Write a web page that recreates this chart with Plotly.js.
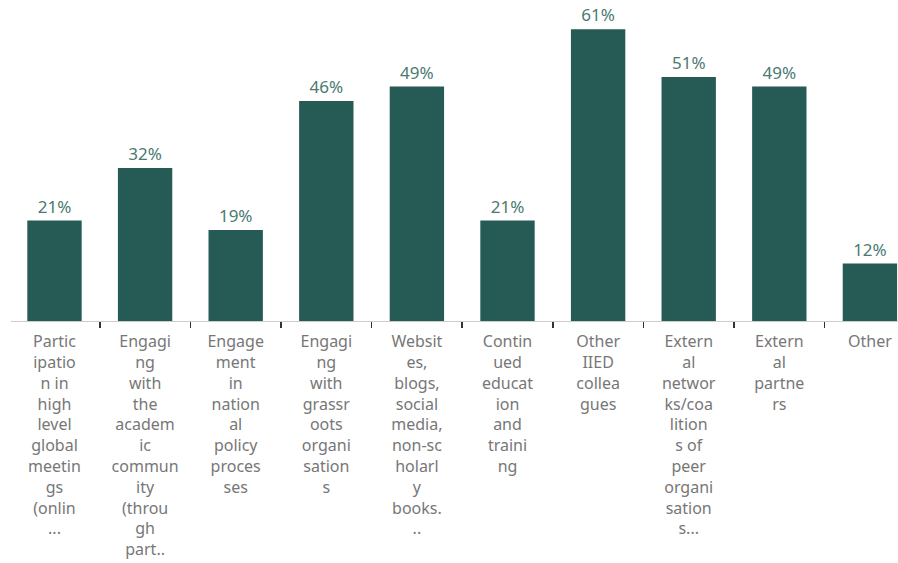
<!DOCTYPE html>
<html>
<head>
<meta charset="utf-8">
<script src="https://cdn.plot.ly/plotly-3.0.1.min.js"></script>
<style>html,body{margin:0;padding:0;background:#fff;}#chart{width:898px;height:563px;}</style>
</head>
<body>
<div id="chart"></div>
<script>
const categories = [
  "Partic<br>ipatio<br>n in<br>high<br>level<br>global<br>meetin<br>gs<br>(onlin<br>...",
  "Engagi<br>ng<br>with<br>the<br>academ<br>ic<br>commun<br>ity<br>(throu<br>gh<br>part..",
  "Engage<br>ment<br>in<br>nation<br>al<br>policy<br>proces<br>ses",
  "Engagi<br>ng<br>with<br>grassr<br>oots<br>organi<br>sation<br>s",
  "Websit<br>es,<br>blogs,<br>social<br>media,<br>non-sc<br>holarl<br>y<br>books.<br>..",
  "Contin<br>ued<br>educat<br>ion<br>and<br>traini<br>ng",
  "Other<br>IIED<br>collea<br>gues",
  "Extern<br>al<br>networ<br>ks/coa<br>lition<br>s of<br>peer<br>organi<br>sation<br>s...",
  "Extern<br>al<br>partne<br>rs",
  "Other"
];
const values = [21, 32, 19, 46, 49, 21, 61, 51, 49, 12];
const valueLabels = values.map(v => v + "%");

const FONT = "'Noto Sans', 'Open Sans', sans-serif";

const trace = {
  type: "bar",
  x: categories,
  y: values,
  text: valueLabels,
  textposition: "outside",
  cliponaxis: false,
  textfont: {family: FONT, size: 17, color: "#4a7a72"},
  marker: {color: "#265b55", line: {width: 0}},
  hoverinfo: "none"
};

const layout = {
  width: 898, height: 563,
  margin: {l: 11, r: 0, t: 10, b: 242},
  paper_bgcolor: "#ffffff",
  plot_bgcolor: "#ffffff",
  bargap: 0.4,
  showlegend: false,
  font: {family: FONT, size: 16, color: "#777"},
  xaxis: {
    type: "category",
    range: [-0.48, 9.31],
    showline: true, linecolor: "#cccccc", linewidth: 1,
    ticks: "outside", tickson: "boundaries", ticklen: 6, tickwidth: 1.5, tickcolor: "#333",
    ticklabelstandoff: 6,
    tickfont: {family: FONT, size: 16, color: "#777"},
    tickangle: 0,
    showgrid: false, zeroline: false, fixedrange: true
  },
  yaxis: {
    range: [0, 65],
    visible: false, showgrid: false, zeroline: false, fixedrange: true
  }
};

Plotly.newPlot("chart", [trace], layout, {displayModeBar: false, staticPlot: true});
</script>
</body>
</html>
